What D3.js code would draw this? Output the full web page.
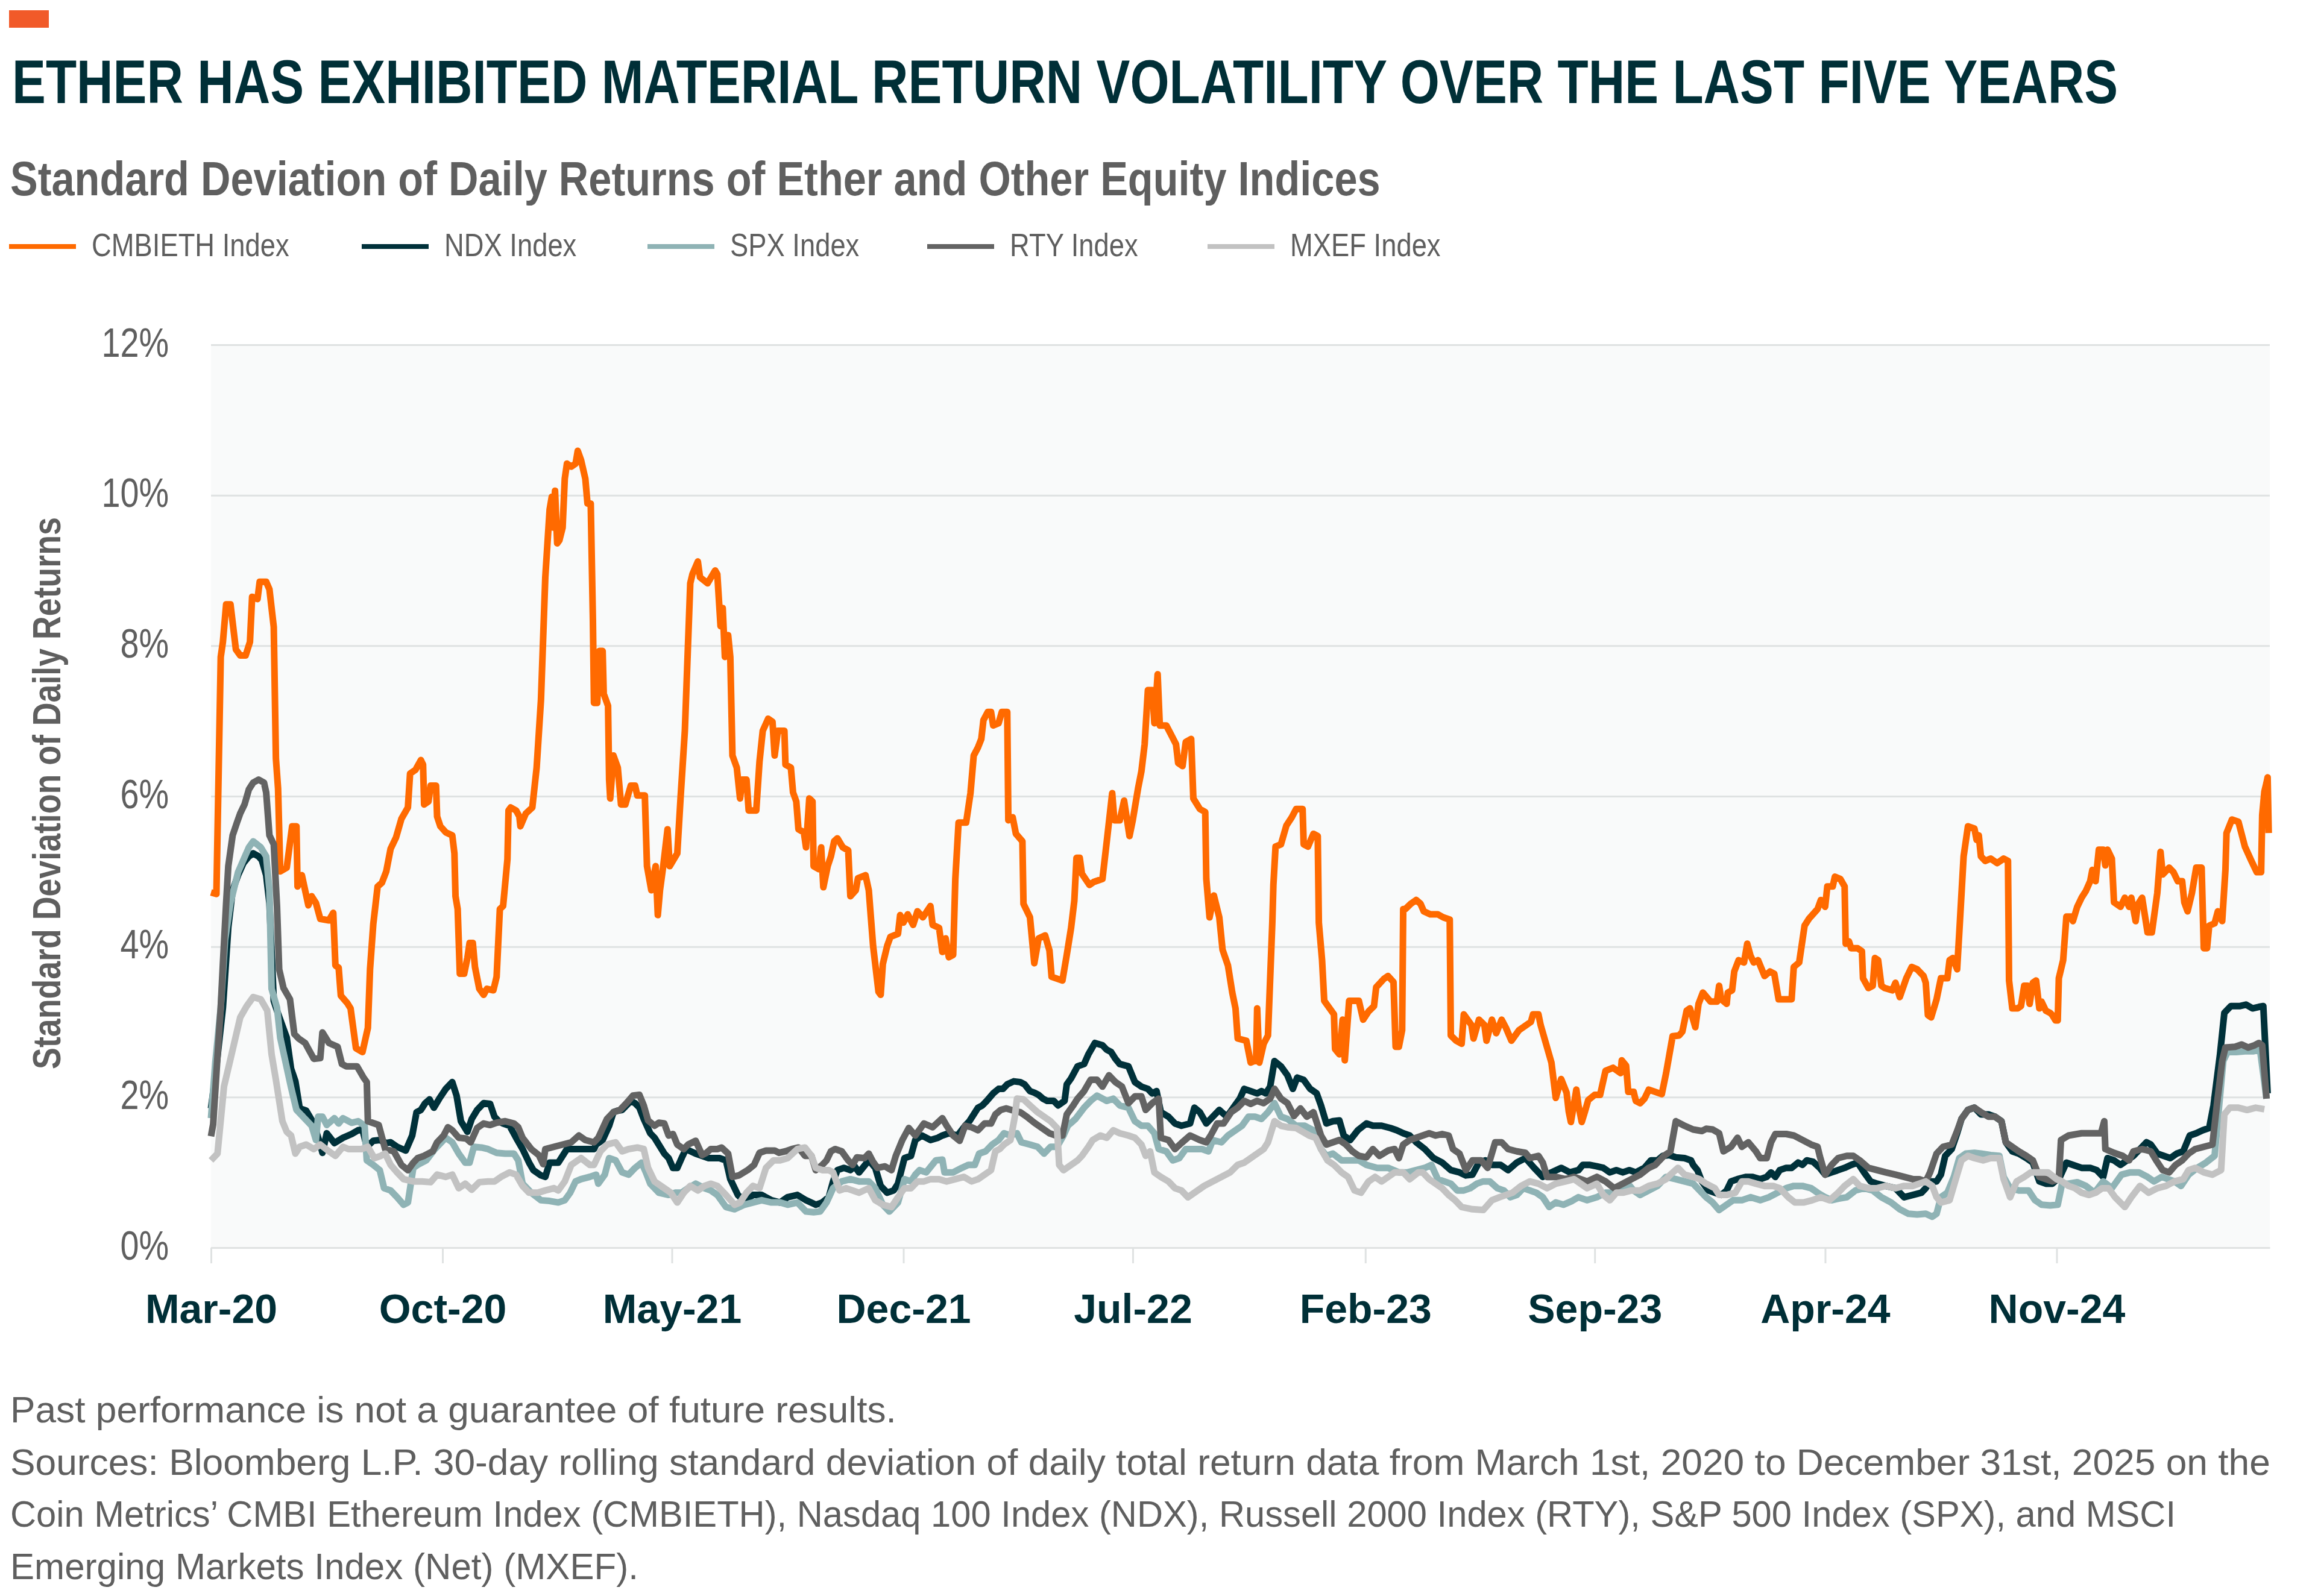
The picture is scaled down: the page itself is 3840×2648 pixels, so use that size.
<!DOCTYPE html>
<html>
<head>
<meta charset="utf-8">
<script src="https://cdn.jsdelivr.net/npm/d3@7"></script>
<style>
  body { margin: 0; background: #ffffff; }
  svg { display: block; }
  text { font-family: 'Liberation Sans', Arial, sans-serif; }
</style>
</head>
<body>
<script>
/*
 * Rolling standard deviation of daily returns: Ether vs equity indices.
 */

const CANVAS_WIDTH = 3840;
const CANVAS_HEIGHT = 2648;
const PLOT_LEFT = 350;
const PLOT_RIGHT = 3765;
const PLOT_TOP = 572;
const PLOT_BOTTOM = 2070;

const DARK = '#002f37';
const GRAY = '#5f5f5f';
const GRID = '#dfe2e2';

/*
 * Data (values in %).
 */

const seriesNames = ['CMBIETH Index', 'NDX Index', 'SPX Index', 'RTY Index', 'MXEF Index'];
const seriesColors = ['#ff6a00', '#00313a', '#8fb3b5', '#636363', '#c2c2c2'];

const xDomain = ['2020-03-01', '2025-05-17'];
const xTickDates = ['2020-03-01', '2020-10-01', '2021-05-01', '2021-12-01', '2022-07-01',
  '2023-02-01', '2023-09-01', '2024-04-01', '2024-11-01'];
const yTickValues = [0, 2, 4, 6, 8, 10, 12];

const CMBIETH = [
  ['2020-03-01',4.72],['2020-03-06',4.7],['2020-03-10',7.85],['2020-03-12',8.05],['2020-03-15',8.55],
  ['2020-03-19',8.55],['2020-03-24',7.95],['2020-03-28',7.87],['2020-04-02',7.87],['2020-04-06',8.05],
  ['2020-04-08',8.65],['2020-04-13',8.62],['2020-04-15',8.85],['2020-04-21',8.85],['2020-04-24',8.75],
  ['2020-04-28',8.25],['2020-04-30',6.5],['2020-05-02',6.1],['2020-05-04',5.0],['2020-05-10',5.05],
  ['2020-05-15',5.6],['2020-05-19',5.6],['2020-05-20',4.8],['2020-05-24',4.95],['2020-05-30',4.55],
  ['2020-06-02',4.67],['2020-06-06',4.58],['2020-06-10',4.37],['2020-06-18',4.35],['2020-06-22',4.45],
  ['2020-06-24',3.75],['2020-06-27',3.72],['2020-06-29',3.35],['2020-07-05',3.25],['2020-07-08',3.18],
  ['2020-07-13',2.65],['2020-07-19',2.6],['2020-07-24',2.92],['2020-07-26',3.7],['2020-07-29',4.3],
  ['2020-08-02',4.8],['2020-08-06',4.85],['2020-08-10',5.0],['2020-08-14',5.3],['2020-08-19',5.45],
  ['2020-08-24',5.7],['2020-08-30',5.85],['2020-09-01',6.3],['2020-09-06',6.35],['2020-09-11',6.48],
  ['2020-09-13',6.42],['2020-09-14',5.89],['2020-09-18',5.93],['2020-09-20',6.14],['2020-09-25',6.14],
  ['2020-09-26',5.73],['2020-09-29',5.6],['2020-10-04',5.52],['2020-10-10',5.48],['2020-10-12',5.24],
  ['2020-10-13',4.67],['2020-10-15',4.5],['2020-10-17',3.64],['2020-10-21',3.64],['2020-10-24',3.85],
  ['2020-10-26',4.05],['2020-10-29',4.05],['2020-10-31',3.73],['2020-11-04',3.44],['2020-11-08',3.36],
  ['2020-11-11',3.44],['2020-11-17',3.42],['2020-11-20',3.6],['2020-11-23',4.5],['2020-11-26',4.54],
  ['2020-11-30',5.16],['2020-12-01',5.81],['2020-12-03',5.85],['2020-12-08',5.81],['2020-12-11',5.73],
  ['2020-12-12',5.6],['2020-12-17',5.77],['2020-12-23',5.85],['2020-12-27',6.38],['2020-12-31',7.28],
  ['2021-01-04',8.91],['2021-01-08',9.81],['2021-01-10',9.98],['2021-01-11',9.57],['2021-01-13',10.06],
  ['2021-01-15',9.36],['2021-01-17',9.4],['2021-01-20',9.57],['2021-01-22',10.22],['2021-01-24',10.42],
  ['2021-01-28',10.38],['2021-02-01',10.42],['2021-02-03',10.59],['2021-02-06',10.47],['2021-02-10',10.22],
  ['2021-02-12',9.89],['2021-02-15',9.89],['2021-02-17',8.34],['2021-02-18',7.24],['2021-02-21',7.24],
  ['2021-02-23',7.93],['2021-02-26',7.93],['2021-02-27',7.36],['2021-03-03',7.2],['2021-03-04',6.22],
  ['2021-03-05',5.97],['2021-03-08',6.54],['2021-03-12',6.38],['2021-03-15',5.89],['2021-03-19',5.89],
  ['2021-03-24',6.14],['2021-03-28',6.14],['2021-03-30',6.01],['2021-04-06',6.01],['2021-04-08',5.07],
  ['2021-04-12',4.75],['2021-04-16',5.07],['2021-04-18',4.42],['2021-04-20',4.75],['2021-04-23',5.07],
  ['2021-04-27',5.56],['2021-04-29',5.07],['2021-05-06',5.24],['2021-05-09',5.97],['2021-05-13',6.87],
  ['2021-05-18',8.83],['2021-05-20',8.95],['2021-05-25',9.12],['2021-05-27',8.91],['2021-06-03',8.83],
  ['2021-06-10',9.0],['2021-06-12',8.95],['2021-06-15',8.26],['2021-06-17',8.5],['2021-06-19',7.85],
  ['2021-06-22',8.14],['2021-06-24',7.85],['2021-06-26',6.54],['2021-06-30',6.38],['2021-07-03',5.97],
  ['2021-07-05',6.22],['2021-07-09',6.22],['2021-07-11',5.81],['2021-07-18',5.81],['2021-07-21',6.46],
  ['2021-07-24',6.87],['2021-07-29',7.03],['2021-08-02',6.99],['2021-08-04',6.54],['2021-08-07',6.87],
  ['2021-08-13',6.87],['2021-08-14',6.42],['2021-08-19',6.38],['2021-08-21',6.05],['2021-08-24',5.93],
  ['2021-08-26',5.56],['2021-08-31',5.52],['2021-09-02',5.32],['2021-09-05',5.97],['2021-09-08',5.93],
  ['2021-09-09',5.07],['2021-09-14',5.03],['2021-09-16',5.32],['2021-09-18',4.79],['2021-09-22',5.07],
  ['2021-09-25',5.2],['2021-09-28',5.4],['2021-10-01',5.44],['2021-10-06',5.32],['2021-10-11',5.28],
  ['2021-10-13',4.67],['2021-10-18',4.75],['2021-10-20',4.91],['2021-10-27',4.95],['2021-10-30',4.75],
  ['2021-11-03',4.01],['2021-11-08',3.4],['2021-11-10',3.36],['2021-11-12',3.77],['2021-11-16',4.01],
  ['2021-11-19',4.13],['2021-11-26',4.17],['2021-11-28',4.42],['2021-12-01',4.32],['2021-12-05',4.43],
  ['2021-12-10',4.29],['2021-12-14',4.47],['2021-12-19',4.39],['2021-12-26',4.54],['2021-12-28',4.29],
  ['2022-01-03',4.25],['2022-01-06',3.93],['2022-01-09',4.11],['2022-01-12',3.86],['2022-01-16',3.89],
  ['2022-01-18',4.9],['2022-01-21',5.65],['2022-01-28',5.65],['2022-02-01',6.04],['2022-02-04',6.54],
  ['2022-02-08',6.65],['2022-02-11',6.76],['2022-02-13',7.01],['2022-02-17',7.12],['2022-02-20',7.12],
  ['2022-02-22',6.94],['2022-02-27',6.97],['2022-03-02',7.12],['2022-03-07',7.12],['2022-03-08',5.68],
  ['2022-03-12',5.72],['2022-03-15',5.5],['2022-03-21',5.4],['2022-03-22',4.57],['2022-03-28',4.39],
  ['2022-04-01',3.78],['2022-04-05',4.11],['2022-04-11',4.15],['2022-04-15',3.95],['2022-04-17',3.6],
  ['2022-04-27',3.55],['2022-05-01',3.89],['2022-05-05',4.25],['2022-05-08',4.61],['2022-05-10',5.18],
  ['2022-05-13',5.18],['2022-05-15',4.97],['2022-05-22',4.82],['2022-05-26',4.86],['2022-06-03',4.9],
  ['2022-06-07',5.4],['2022-06-12',6.04],['2022-06-14',5.68],['2022-06-19',5.68],['2022-06-23',5.94],
  ['2022-06-28',5.47],['2022-07-01',5.68],['2022-07-06',6.11],['2022-07-09',6.33],['2022-07-12',6.69],
  ['2022-07-15',7.41],['2022-07-19',7.41],['2022-07-21',6.97],['2022-07-24',7.62],['2022-07-26',6.94],
  ['2022-08-01',6.94],['2022-08-05',6.83],['2022-08-10',6.69],['2022-08-12',6.44],['2022-08-16',6.4],
  ['2022-08-19',6.72],['2022-08-24',6.76],['2022-08-26',5.97],['2022-09-01',5.83],['2022-09-06',5.79],
  ['2022-09-07',4.9],['2022-09-10',4.39],['2022-09-14',4.68],['2022-09-19',4.39],['2022-09-22',3.96],
  ['2022-09-27',3.75],['2022-10-01',3.39],['2022-10-04',3.18],['2022-10-06',2.78],['2022-10-14',2.75],
  ['2022-10-18',2.46],['2022-10-23',2.49],['2022-10-24',3.18],['2022-10-26',2.46],['2022-10-30',2.71],
  ['2022-11-03',2.82],['2022-11-07',4.32],['2022-11-08',4.82],['2022-11-10',5.33],['2022-11-15',5.36],
  ['2022-11-20',5.61],['2022-11-25',5.72],['2022-11-29',5.83],['2022-12-05',5.83],['2022-12-06',5.36],
  ['2022-12-10',5.33],['2022-12-15',5.5],['2022-12-19',5.47],['2022-12-20',4.32],['2022-12-23',3.82],
  ['2022-12-25',3.28],['2022-12-30',3.18],['2023-01-03',3.1],['2023-01-04',2.64],['2023-01-08',2.57],
  ['2023-01-11',3.03],['2023-01-13',2.49],['2023-01-17',3.28],['2023-01-26',3.28],['2023-01-30',3.03],
  ['2023-02-04',3.14],['2023-02-09',3.21],['2023-02-11',3.46],['2023-02-18',3.57],['2023-02-22',3.61],
  ['2023-02-27',3.53],['2023-03-01',2.67],['2023-03-04',2.67],['2023-03-07',2.89],['2023-03-08',4.5],
  ['2023-03-10',4.5],['2023-03-15',4.57],['2023-03-20',4.62],['2023-03-24',4.57],['2023-03-27',4.47],
  ['2023-04-02',4.43],['2023-04-09',4.43],['2023-04-14',4.39],['2023-04-20',4.36],['2023-04-21',2.82],
  ['2023-04-26',2.75],['2023-05-01',2.71],['2023-05-03',3.1],['2023-05-10',2.96],['2023-05-12',2.78],
  ['2023-05-17',3.03],['2023-05-22',2.96],['2023-05-24',2.75],['2023-05-29',3.03],['2023-06-02',2.85],
  ['2023-06-07',3.03],['2023-06-11',2.92],['2023-06-16',2.75],['2023-06-23',2.89],['2023-06-30',2.96],
  ['2023-07-04',3.0],['2023-07-06',3.1],['2023-07-11',3.1],['2023-07-13',2.96],['2023-07-18',2.71],
  ['2023-07-23',2.46],['2023-07-27',1.99],['2023-08-01',2.24],['2023-08-06',2.06],['2023-08-08',1.81],
  ['2023-08-10',1.67],['2023-08-13',1.92],['2023-08-15',2.1],['2023-08-17',1.89],['2023-08-20',1.67],
  ['2023-08-23',1.81],['2023-08-26',1.96],['2023-09-01',2.03],['2023-09-06',2.03],['2023-09-11',2.35],
  ['2023-09-18',2.39],['2023-09-25',2.32],['2023-09-26',2.49],['2023-09-30',2.42],['2023-10-02',2.07],
  ['2023-10-07',2.07],['2023-10-09',1.95],['2023-10-13',1.92],['2023-10-17',1.98],['2023-10-21',2.1],
  ['2023-10-27',2.07],['2023-11-02',2.04],['2023-11-06',2.32],['2023-11-12',2.81],['2023-11-18',2.82],
  ['2023-11-21',2.87],['2023-11-25',3.15],['2023-11-28',3.18],['2023-12-03',2.93],['2023-12-06',3.24],
  ['2023-12-10',3.39],['2023-12-17',3.27],['2023-12-23',3.27],['2023-12-25',3.48],['2023-12-27',3.3],
  ['2024-01-01',3.24],['2024-01-02',3.39],['2024-01-06',3.42],['2024-01-08',3.67],['2024-01-12',3.82],
  ['2024-01-17',3.79],['2024-01-20',4.04],['2024-01-23',3.88],['2024-01-26',3.79],['2024-01-30',3.82],
  ['2024-02-05',3.61],['2024-02-10',3.67],['2024-02-14',3.64],['2024-02-18',3.3],['2024-02-24',3.3],
  ['2024-03-01',3.3],['2024-03-03',3.73],['2024-03-08',3.79],['2024-03-13',4.28],['2024-03-17',4.37],
  ['2024-03-25',4.5],['2024-03-28',4.62],['2024-04-01',4.53],['2024-04-03',4.8],['2024-04-08',4.8],
  ['2024-04-10',4.93],['2024-04-15',4.9],['2024-04-19',4.8],['2024-04-20',4.04],['2024-04-23',4.07],
  ['2024-04-25',3.98],['2024-05-01',3.98],['2024-05-05',3.94],['2024-05-06',3.58],['2024-05-11',3.45],
  ['2024-05-15',3.48],['2024-05-17',3.85],['2024-05-20',3.82],['2024-05-23',3.48],['2024-05-26',3.45],
  ['2024-06-02',3.42],['2024-06-05',3.52],['2024-06-09',3.33],['2024-06-15',3.58],['2024-06-20',3.73],
  ['2024-06-25',3.7],['2024-07-01',3.61],['2024-07-03',3.52],['2024-07-05',3.09],['2024-07-08',3.06],
  ['2024-07-13',3.3],['2024-07-17',3.58],['2024-07-23',3.58],['2024-07-25',3.82],['2024-07-28',3.85],
  ['2024-08-01',3.7],['2024-08-03',4.19],['2024-08-07',5.2],['2024-08-11',5.6],['2024-08-17',5.57],
  ['2024-08-19',5.42],['2024-08-21',5.48],['2024-08-23',5.2],['2024-08-27',5.14],['2024-09-01',5.17],
  ['2024-09-07',5.11],['2024-09-13',5.17],['2024-09-17',5.14],['2024-09-18',3.55],['2024-09-21',3.18],
  ['2024-09-26',3.18],['2024-09-29',3.21],['2024-10-02',3.48],['2024-10-05',3.48],['2024-10-07',3.24],
  ['2024-10-10',3.52],['2024-10-13',3.55],['2024-10-16',3.18],['2024-10-18',3.27],['2024-10-22',3.15],
  ['2024-10-26',3.12],['2024-10-28',3.09],['2024-10-31',3.02],['2024-11-02',3.02],['2024-11-03',3.58],
  ['2024-11-07',3.82],['2024-11-10',4.4],['2024-11-14',4.4],['2024-11-16',4.34],['2024-11-20',4.53],
  ['2024-11-24',4.65],['2024-11-28',4.74],['2024-12-02',4.87],['2024-12-04',5.02],['2024-12-07',4.87],
  ['2024-12-10',5.29],['2024-12-14',5.29],['2024-12-16',5.08],['2024-12-18',5.29],['2024-12-22',5.17],
  ['2024-12-24',4.59],['2024-12-30',4.53],['2025-01-03',4.65],['2025-01-07',4.53],['2025-01-09',4.65],
  ['2025-01-13',4.34],['2025-01-15',4.56],['2025-01-19',4.65],['2025-01-24',4.19],['2025-01-28',4.19],
  ['2025-02-02',4.71],['2025-02-05',5.26],['2025-02-07',4.96],['2025-02-13',5.05],['2025-02-17',4.99],
  ['2025-02-21',4.87],['2025-02-25',4.87],['2025-02-27',4.59],['2025-03-02',4.47],['2025-03-06',4.71],
  ['2025-03-10',5.05],['2025-03-15',5.05],['2025-03-17',3.98],['2025-03-20',3.98],['2025-03-22',4.28],
  ['2025-03-27',4.31],['2025-03-30',4.47],['2025-04-03',4.34],['2025-04-06',5.02],['2025-04-07',5.51],
  ['2025-04-12',5.69],['2025-04-18',5.66],['2025-04-24',5.33],['2025-04-30',5.14],['2025-05-05',4.99],
  ['2025-05-09',4.99],['2025-05-10',5.75],['2025-05-12',6.06],['2025-05-14',6.18],['2025-05-15',6.25],
  ['2025-05-16',5.51]
];

const NDX = [
  ['2020-03-01',1.85],['2020-03-04',2.17],['2020-03-07',2.54],['2020-03-12',3.19],['2020-03-17',4.26],
  ['2020-03-21',4.75],['2020-03-26',4.95],['2020-03-31',5.11],['2020-04-05',5.2],['2020-04-09',5.24],
  ['2020-04-14',5.2],['2020-04-17',5.15],['2020-04-21',4.95],['2020-04-24',4.58],['2020-04-26',3.93],
  ['2020-04-28',3.28],['2020-05-01',3.15],['2020-05-05',2.99],['2020-05-10',2.79],['2020-05-14',2.38],
  ['2020-05-18',2.21],['2020-05-22',1.85],['2020-05-28',1.82],['2020-06-04',1.65],['2020-06-10',1.37],
  ['2020-06-12',1.26],['2020-06-16',1.52],['2020-06-23',1.39],['2020-07-01',1.46],['2020-07-09',1.51],
  ['2020-07-15',1.56],['2020-07-19',1.57],['2020-07-23',1.34],['2020-07-29',1.42],['2020-08-04',1.43],
  ['2020-08-10',1.39],['2020-08-14',1.4],['2020-08-20',1.34],['2020-08-28',1.29],['2020-09-03',1.49],
  ['2020-09-07',1.8],['2020-09-11',1.83],['2020-09-15',1.92],['2020-09-19',1.97],['2020-09-23',1.86],
  ['2020-09-28',1.98],['2020-10-04',2.11],['2020-10-10',2.2],['2020-10-14',2.02],['2020-10-18',1.68],
  ['2020-10-24',1.54],['2020-10-28',1.71],['2020-11-02',1.83],['2020-11-08',1.92],['2020-11-14',1.91],
  ['2020-11-18',1.74],['2020-11-22',1.68],['2020-11-26',1.65],['2020-12-02',1.62],['2020-12-08',1.46],
  ['2020-12-14',1.31],['2020-12-20',1.13],['2020-12-24',1.03],['2020-12-31',0.96],['2021-01-04',0.94],
  ['2021-01-08',1.13],['2021-01-16',1.13],['2021-01-24',1.31],['2021-02-02',1.31],['2021-02-10',1.31],
  ['2021-02-18',1.31],['2021-02-20',1.37],['2021-02-26',1.43],['2021-03-04',1.62],['2021-03-08',1.8],
  ['2021-03-12',1.82],['2021-03-16',1.83],['2021-03-24',1.95],['2021-03-28',1.92],['2021-04-01',1.86],
  ['2021-04-05',1.71],['2021-04-11',1.52],['2021-04-15',1.46],['2021-04-24',1.25],['2021-04-28',1.19],
  ['2021-05-02',1.06],['2021-05-06',1.06],['2021-05-10',1.19],['2021-05-14',1.31],['2021-05-23',1.25],
  ['2021-05-29',1.22],['2021-06-04',1.19],['2021-06-14',1.19],['2021-06-20',1.16],['2021-06-24',0.91],
  ['2021-07-01',0.7],['2021-07-07',0.62],['2021-07-15',0.7],['2021-07-23',0.7],['2021-08-01',0.63],
  ['2021-08-09',0.6],['2021-08-16',0.67],['2021-08-25',0.7],['2021-09-02',0.63],['2021-09-11',0.57],
  ['2021-09-17',0.6],['2021-09-23',0.67],['2021-09-27',0.88],['2021-10-01',1.03],['2021-10-07',1.06],
  ['2021-10-13',1.03],['2021-10-17',1.08],['2021-10-21',1.0],['2021-10-30',1.16],['2021-11-05',1.06],
  ['2021-11-10',0.82],['2021-11-16',0.73],['2021-11-22',0.76],['2021-11-26',0.85],['2021-12-02',1.19],
  ['2021-12-08',1.22],['2021-12-12',1.43],['2021-12-18',1.49],['2021-12-26',1.43],['2022-01-02',1.46],
  ['2022-01-06',1.49],['2022-01-12',1.52],['2022-01-20',1.49],['2022-01-27',1.62],['2022-01-31',1.68],
  ['2022-02-04',1.77],['2022-02-08',1.86],['2022-02-12',1.89],['2022-02-16',1.95],['2022-02-22',2.05],
  ['2022-02-27',2.11],['2022-03-03',2.11],['2022-03-07',2.17],['2022-03-13',2.21],['2022-03-19',2.2],
  ['2022-03-23',2.17],['2022-03-28',2.08],['2022-04-01',2.06],['2022-04-05',2.03],['2022-04-09',1.98],
  ['2022-04-13',1.95],['2022-04-19',1.95],['2022-04-23',1.89],['2022-04-29',1.95],['2022-05-01',2.17],
  ['2022-05-05',2.25],['2022-05-11',2.41],['2022-05-17',2.44],['2022-05-21',2.57],['2022-05-27',2.72],
  ['2022-06-03',2.69],['2022-06-07',2.63],['2022-06-11',2.6],['2022-06-15',2.51],['2022-06-19',2.44],
  ['2022-06-27',2.41],['2022-07-03',2.2],['2022-07-09',2.14],['2022-07-15',2.11],['2022-07-19',2.05],
  ['2022-07-23',2.08],['2022-07-27',1.8],['2022-08-03',1.74],['2022-08-09',1.65],['2022-08-15',1.62],
  ['2022-08-23',1.65],['2022-08-27',1.86],['2022-09-01',1.8],['2022-09-07',1.65],['2022-09-13',1.74],
  ['2022-09-19',1.83],['2022-09-26',1.74],['2022-10-02',1.86],['2022-10-08',1.98],['2022-10-12',2.11],
  ['2022-10-18',2.08],['2022-10-24',2.05],['2022-10-28',2.08],['2022-11-01',2.05],['2022-11-05',2.14],
  ['2022-11-09',2.48],['2022-11-15',2.41],['2022-11-21',2.29],['2022-11-26',2.11],['2022-11-30',2.26],
  ['2022-12-06',2.23],['2022-12-12',2.11],['2022-12-18',2.05],['2022-12-22',1.89],['2022-12-27',1.65],
  ['2023-01-02',1.68],['2023-01-08',1.69],['2023-01-12',1.49],['2023-01-18',1.43],['2023-01-25',1.56],
  ['2023-02-02',1.65],['2023-02-08',1.62],['2023-02-16',1.62],['2023-02-24',1.59],['2023-03-02',1.56],
  ['2023-03-08',1.52],['2023-03-14',1.49],['2023-03-20',1.4],['2023-03-28',1.31],['2023-04-05',1.19],
  ['2023-04-13',1.13],['2023-04-21',1.03],['2023-04-29',1.0],['2023-05-05',0.96],['2023-05-11',0.97],
  ['2023-05-17',1.13],['2023-05-23',1.16],['2023-05-29',1.1],['2023-06-06',1.1],['2023-06-13',1.03],
  ['2023-06-21',1.13],['2023-06-29',1.19],['2023-07-07',1.06],['2023-07-15',0.94],['2023-07-23',1.0],
  ['2023-08-01',1.06],['2023-08-09',1.0],['2023-08-17',1.03],['2023-08-21',1.1],['2023-08-27',1.1],
  ['2023-09-03',1.08],['2023-09-09',1.06],['2023-09-15',1.0],['2023-09-21',1.03],['2023-09-27',1.0],
  ['2023-10-03',1.03],['2023-10-09',1.0],['2023-10-17',1.06],['2023-10-23',1.16],['2023-10-29',1.16],
  ['2023-11-03',1.22],['2023-11-09',1.23],['2023-11-15',1.2],['2023-11-23',1.19],['2023-11-29',1.16],
  ['2023-12-01',1.1],['2023-12-05',1.03],['2023-12-09',0.88],['2023-12-15',0.76],['2023-12-21',0.73],
  ['2023-12-27',0.7],['2024-01-01',0.76],['2024-01-05',0.88],['2024-01-11',0.91],['2024-01-19',0.94],
  ['2024-01-25',0.94],['2024-02-01',0.91],['2024-02-07',0.94],['2024-02-11',1.0],['2024-02-15',0.94],
  ['2024-02-19',1.03],['2024-02-25',1.06],['2024-03-01',1.06],['2024-03-07',1.13],['2024-03-11',1.1],
  ['2024-03-15',1.16],['2024-03-21',1.14],['2024-03-27',1.06],['2024-04-01',0.97],['2024-04-07',1.0],
  ['2024-04-13',1.03],['2024-04-19',1.06],['2024-04-25',1.1],['2024-05-01',1.13],['2024-05-07',1.0],
  ['2024-05-13',0.88],['2024-05-19',0.85],['2024-05-27',0.82],['2024-06-05',0.79],['2024-06-13',0.67],
  ['2024-06-21',0.7],['2024-06-29',0.73],['2024-07-03',0.79],['2024-07-07',0.88],['2024-07-13',0.88],
  ['2024-07-17',0.97],['2024-07-21',1.22],['2024-07-27',1.31],['2024-08-01',1.52],['2024-08-05',1.71],
  ['2024-08-11',1.83],['2024-08-17',1.86],['2024-08-23',1.77],['2024-08-30',1.77],['2024-09-05',1.74],
  ['2024-09-11',1.68],['2024-09-15',1.4],['2024-09-21',1.28],['2024-09-27',1.25],['2024-10-04',1.19],
  ['2024-10-10',1.13],['2024-10-16',0.88],['2024-10-22',0.85],['2024-10-28',0.85],['2024-11-04',0.94],
  ['2024-11-10',1.13],['2024-11-16',1.1],['2024-11-24',1.06],['2024-12-02',1.06],['2024-12-08',1.03],
  ['2024-12-14',0.94],['2024-12-18',1.19],['2024-12-24',1.16],['2024-12-30',1.1],['2025-01-05',1.16],
  ['2025-01-11',1.22],['2025-01-17',1.31],['2025-01-23',1.4],['2025-01-27',1.37],['2025-02-02',1.25],
  ['2025-02-08',1.22],['2025-02-14',1.19],['2025-02-20',1.25],['2025-02-26',1.28],['2025-03-04',1.49],
  ['2025-03-10',1.52],['2025-03-16',1.56],['2025-03-22',1.59],['2025-03-26',1.89],['2025-04-01',2.57],
  ['2025-04-05',3.12],['2025-04-11',3.21],['2025-04-19',3.21],['2025-04-25',3.23],['2025-05-01',3.18],
  ['2025-05-07',3.2],['2025-05-11',3.21],['2025-05-15',2.05]
];

const SPX = [
  ['2020-03-01',1.72],['2020-03-05',2.46],['2020-03-10',3.19],['2020-03-14',4.09],['2020-03-19',4.58],
  ['2020-03-26',4.99],['2020-04-05',5.32],['2020-04-09',5.4],['2020-04-16',5.32],['2020-04-21',5.2],
  ['2020-04-24',4.75],['2020-04-26',3.44],['2020-05-01',3.19],['2020-05-04',2.79],['2020-05-09',2.46],
  ['2020-05-14',2.13],['2020-05-19',1.83],['2020-05-25',1.74],['2020-06-02',1.62],['2020-06-06',1.43],
  ['2020-06-08',1.74],['2020-06-12',1.74],['2020-06-16',1.63],['2020-06-23',1.72],['2020-06-27',1.65],
  ['2020-07-01',1.72],['2020-07-09',1.66],['2020-07-15',1.68],['2020-07-21',1.62],['2020-07-23',1.16],
  ['2020-07-29',1.1],['2020-08-04',1.03],['2020-08-08',0.79],['2020-08-14',0.76],['2020-08-20',0.67],
  ['2020-08-26',0.57],['2020-08-30',0.6],['2020-09-04',1.06],['2020-09-08',1.1],['2020-09-16',1.16],
  ['2020-09-24',1.31],['2020-10-04',1.46],['2020-10-10',1.4],['2020-10-16',1.25],['2020-10-22',1.13],
  ['2020-10-26',1.13],['2020-10-30',1.34],['2020-11-06',1.33],['2020-11-12',1.31],['2020-11-20',1.26],
  ['2020-11-28',1.25],['2020-12-06',1.25],['2020-12-10',1.16],['2020-12-14',0.85],['2020-12-22',0.73],
  ['2020-12-31',0.63],['2021-01-08',0.62],['2021-01-16',0.6],['2021-01-22',0.63],['2021-01-27',0.73],
  ['2021-02-01',0.88],['2021-02-06',0.91],['2021-02-14',0.94],['2021-02-20',0.97],['2021-02-22',0.85],
  ['2021-02-28',0.97],['2021-03-04',1.19],['2021-03-10',1.16],['2021-03-16',1.0],['2021-03-22',0.97],
  ['2021-03-28',1.06],['2021-04-03',1.13],['2021-04-07',1.0],['2021-04-11',0.85],['2021-04-19',0.73],
  ['2021-04-28',0.7],['2021-05-04',0.73],['2021-05-10',0.73],['2021-05-16',0.79],['2021-05-23',0.85],
  ['2021-05-31',0.79],['2021-06-06',0.76],['2021-06-12',0.7],['2021-06-20',0.54],['2021-06-28',0.51],
  ['2021-07-07',0.57],['2021-07-15',0.6],['2021-07-23',0.63],['2021-08-01',0.6],['2021-08-09',0.6],
  ['2021-08-16',0.57],['2021-08-25',0.6],['2021-09-02',0.48],['2021-09-09',0.47],['2021-09-15',0.48],
  ['2021-09-21',0.6],['2021-09-27',0.79],['2021-10-05',0.88],['2021-10-13',0.91],['2021-10-21',0.88],
  ['2021-10-30',0.88],['2021-11-05',0.79],['2021-11-12',0.57],['2021-11-18',0.48],['2021-11-26',0.6],
  ['2021-12-02',0.91],['2021-12-08',0.88],['2021-12-12',0.97],['2021-12-16',1.03],['2021-12-22',1.0],
  ['2021-12-31',1.16],['2022-01-06',1.17],['2022-01-08',1.0],['2022-01-16',1.0],['2022-01-24',1.06],
  ['2022-01-30',1.1],['2022-02-05',1.1],['2022-02-09',1.25],['2022-02-15',1.28],['2022-02-21',1.37],
  ['2022-02-27',1.43],['2022-03-04',1.52],['2022-03-10',1.49],['2022-03-16',1.52],['2022-03-20',1.4],
  ['2022-03-28',1.37],['2022-04-04',1.34],['2022-04-10',1.25],['2022-04-16',1.34],['2022-04-22',1.34],
  ['2022-04-28',1.49],['2022-05-02',1.62],['2022-05-09',1.71],['2022-05-17',1.86],['2022-05-23',1.95],
  ['2022-05-29',2.02],['2022-06-07',1.95],['2022-06-13',1.98],['2022-06-19',1.89],['2022-06-27',1.86],
  ['2022-07-03',1.68],['2022-07-09',1.62],['2022-07-15',1.62],['2022-07-21',1.52],['2022-07-25',1.31],
  ['2022-08-01',1.28],['2022-08-07',1.16],['2022-08-13',1.19],['2022-08-19',1.31],['2022-08-27',1.31],
  ['2022-09-03',1.31],['2022-09-09',1.28],['2022-09-13',1.43],['2022-09-21',1.4],['2022-09-27',1.49],
  ['2022-10-04',1.56],['2022-10-10',1.62],['2022-10-16',1.74],['2022-10-22',1.74],['2022-10-28',1.71],
  ['2022-11-03',1.8],['2022-11-09',1.92],['2022-11-15',1.74],['2022-11-21',1.71],['2022-11-29',1.62],
  ['2022-12-07',1.62],['2022-12-15',1.56],['2022-12-22',1.31],['2022-12-27',1.22],['2023-01-02',1.25],
  ['2023-01-10',1.16],['2023-01-18',1.16],['2023-01-26',1.16],['2023-02-02',1.1],['2023-02-12',1.06],
  ['2023-02-22',1.06],['2023-03-04',1.0],['2023-03-12',1.0],['2023-03-20',1.03],['2023-03-28',1.06],
  ['2023-04-03',1.1],['2023-04-09',0.91],['2023-04-15',0.88],['2023-04-21',0.85],['2023-04-27',0.76],
  ['2023-05-03',0.76],['2023-05-09',0.79],['2023-05-15',0.85],['2023-05-21',0.88],['2023-05-27',0.88],
  ['2023-06-03',0.79],['2023-06-09',0.76],['2023-06-15',0.67],['2023-06-21',0.7],['2023-06-27',0.79],
  ['2023-07-03',0.76],['2023-07-09',0.73],['2023-07-15',0.67],['2023-07-21',0.54],['2023-07-27',0.6],
  ['2023-08-03',0.57],['2023-08-11',0.62],['2023-08-17',0.67],['2023-08-25',0.63],['2023-09-03',0.67],
  ['2023-09-11',0.73],['2023-09-19',0.73],['2023-09-27',0.76],['2023-10-03',0.83],['2023-10-07',0.76],
  ['2023-10-13',0.7],['2023-10-21',0.76],['2023-10-29',0.82],['2023-11-06',0.94],['2023-11-15',0.91],
  ['2023-11-23',0.88],['2023-12-01',0.85],['2023-12-07',0.76],['2023-12-13',0.67],['2023-12-19',0.6],
  ['2023-12-25',0.5],['2024-01-01',0.57],['2024-01-07',0.63],['2024-01-15',0.63],['2024-01-23',0.67],
  ['2024-02-01',0.63],['2024-02-09',0.67],['2024-02-17',0.73],['2024-02-25',0.79],['2024-03-03',0.82],
  ['2024-03-11',0.82],['2024-03-19',0.79],['2024-03-25',0.73],['2024-04-01',0.67],['2024-04-07',0.63],
  ['2024-04-13',0.65],['2024-04-21',0.67],['2024-04-29',0.76],['2024-05-07',0.79],['2024-05-15',0.76],
  ['2024-05-23',0.67],['2024-06-01',0.6],['2024-06-09',0.51],['2024-06-17',0.45],['2024-06-25',0.44],
  ['2024-07-03',0.45],['2024-07-09',0.41],['2024-07-13',0.45],['2024-07-17',0.67],['2024-07-23',0.73],
  ['2024-07-29',0.94],['2024-08-03',1.19],['2024-08-09',1.25],['2024-08-17',1.26],['2024-08-23',1.25],
  ['2024-09-01',1.23],['2024-09-09',1.22],['2024-09-13',0.94],['2024-09-19',0.79],['2024-09-27',0.76],
  ['2024-10-06',0.76],['2024-10-12',0.63],['2024-10-18',0.57],['2024-10-26',0.56],['2024-11-02',0.57],
  ['2024-11-06',0.85],['2024-11-12',0.85],['2024-11-20',0.87],['2024-11-28',0.82],['2024-12-06',0.73],
  ['2024-12-14',0.88],['2024-12-22',0.79],['2024-12-31',0.97],['2025-01-08',1.0],['2025-01-16',1.0],
  ['2025-01-24',0.94],['2025-01-30',0.88],['2025-02-06',0.94],['2025-02-12',0.91],['2025-02-18',0.88],
  ['2025-02-24',0.82],['2025-03-03',0.97],['2025-03-11',1.06],['2025-03-19',1.13],['2025-03-27',1.22],
  ['2025-03-31',1.86],['2025-04-04',2.48],['2025-04-08',2.6],['2025-04-16',2.6],['2025-04-24',2.61],
  ['2025-05-02',2.61],['2025-05-08',2.63],['2025-05-14',1.98]
];

const RTY = [
  ['2020-03-01',1.48],['2020-03-03',1.64],['2020-03-07',2.54],['2020-03-10',3.19],['2020-03-12',3.77],
  ['2020-03-15',4.58],['2020-03-17',5.07],['2020-03-21',5.48],['2020-03-25',5.65],['2020-03-28',5.77],
  ['2020-04-01',5.89],['2020-04-05',6.09],['2020-04-09',6.18],['2020-04-14',6.22],['2020-04-19',6.18],
  ['2020-04-21',6.05],['2020-04-24',5.48],['2020-04-28',5.36],['2020-05-01',4.54],['2020-05-03',3.7],
  ['2020-05-07',3.45],['2020-05-13',3.3],['2020-05-17',2.84],['2020-05-21',2.78],['2020-05-27',2.72],
  ['2020-06-04',2.51],['2020-06-10',2.52],['2020-06-12',2.86],['2020-06-18',2.72],['2020-06-26',2.67],
  ['2020-06-30',2.44],['2020-07-04',2.41],['2020-07-14',2.41],['2020-07-20',2.26],['2020-07-23',2.2],
  ['2020-07-24',1.68],['2020-08-03',1.63],['2020-08-09',1.31],['2020-08-17',1.28],['2020-08-24',1.1],
  ['2020-08-30',1.03],['2020-09-04',1.13],['2020-09-08',1.19],['2020-09-14',1.22],['2020-09-18',1.25],
  ['2020-09-22',1.28],['2020-09-26',1.4],['2020-10-02',1.49],['2020-10-06',1.6],['2020-10-10',1.56],
  ['2020-10-16',1.46],['2020-10-23',1.45],['2020-10-27',1.4],['2020-11-02',1.59],['2020-11-08',1.65],
  ['2020-11-14',1.63],['2020-11-20',1.66],['2020-11-28',1.68],['2020-12-06',1.65],['2020-12-10',1.6],
  ['2020-12-14',1.46],['2020-12-22',1.31],['2020-12-29',1.23],['2021-01-02',1.11],['2021-01-04',1.31],
  ['2021-01-12',1.34],['2021-01-20',1.37],['2021-01-28',1.4],['2021-02-04',1.49],['2021-02-10',1.43],
  ['2021-02-18',1.4],['2021-02-22',1.46],['2021-03-02',1.71],['2021-03-08',1.8],['2021-03-14',1.83],
  ['2021-03-20',1.92],['2021-03-26',2.02],['2021-04-01',2.03],['2021-04-05',1.89],['2021-04-09',1.69],
  ['2021-04-15',1.62],['2021-04-19',1.66],['2021-04-24',1.65],['2021-04-28',1.49],['2021-05-02',1.51],
  ['2021-05-06',1.37],['2021-05-12',1.31],['2021-05-16',1.37],['2021-05-23',1.42],['2021-05-29',1.23],
  ['2021-06-02',1.26],['2021-06-06',1.31],['2021-06-12',1.31],['2021-06-16',1.33],['2021-06-22',1.25],
  ['2021-06-26',0.94],['2021-07-02',0.96],['2021-07-10',1.03],['2021-07-16',1.1],['2021-07-21',1.26],
  ['2021-07-27',1.29],['2021-08-04',1.29],['2021-08-08',1.26],['2021-08-14',1.28],['2021-08-20',1.31],
  ['2021-08-26',1.33],['2021-09-01',1.22],['2021-09-07',1.22],['2021-09-11',1.03],['2021-09-17',1.1],
  ['2021-09-21',1.16],['2021-09-25',1.28],['2021-09-29',1.31],['2021-10-05',1.28],['2021-10-11',1.16],
  ['2021-10-15',1.1],['2021-10-19',1.2],['2021-10-26',1.19],['2021-10-30',1.25],['2021-11-03',1.14],
  ['2021-11-07',1.06],['2021-11-14',1.08],['2021-11-20',1.03],['2021-11-24',1.22],['2021-11-30',1.43],
  ['2021-12-06',1.59],['2021-12-12',1.49],['2021-12-20',1.65],['2021-12-28',1.6],['2022-01-06',1.72],
  ['2022-01-10',1.62],['2022-01-16',1.49],['2022-01-22',1.42],['2022-01-27',1.62],['2022-02-02',1.6],
  ['2022-02-08',1.56],['2022-02-14',1.65],['2022-02-20',1.65],['2022-02-24',1.77],['2022-03-01',1.83],
  ['2022-03-06',1.85],['2022-03-13',1.82],['2022-03-19',1.8],['2022-03-25',1.74],['2022-04-01',1.66],
  ['2022-04-07',1.6],['2022-04-15',1.52],['2022-04-21',1.49],['2022-04-27',1.49],['2022-05-01',1.77],
  ['2022-05-07',1.89],['2022-05-11',1.98],['2022-05-17',2.08],['2022-05-23',2.23],['2022-05-29',2.23],
  ['2022-06-03',2.14],['2022-06-09',2.29],['2022-06-15',2.2],['2022-06-21',2.14],['2022-06-27',1.92],
  ['2022-07-03',2.01],['2022-07-09',2.01],['2022-07-13',1.83],['2022-07-19',1.92],['2022-07-25',1.98],
  ['2022-07-27',1.46],['2022-08-03',1.43],['2022-08-09',1.31],['2022-08-15',1.39],['2022-08-23',1.49],
  ['2022-09-01',1.43],['2022-09-07',1.4],['2022-09-11',1.49],['2022-09-17',1.65],['2022-09-23',1.65],
  ['2022-09-30',1.8],['2022-10-06',1.86],['2022-10-12',1.95],['2022-10-18',1.91],['2022-10-24',1.95],
  ['2022-10-30',1.92],['2022-11-05',1.98],['2022-11-09',2.11],['2022-11-15',1.98],['2022-11-21',1.92],
  ['2022-11-27',1.75],['2022-12-03',1.85],['2022-12-09',1.74],['2022-12-15',1.8],['2022-12-22',1.49],
  ['2022-12-27',1.37],['2023-01-02',1.4],['2023-01-08',1.43],['2023-01-14',1.37],['2023-01-20',1.28],
  ['2023-01-26',1.22],['2023-02-02',1.2],['2023-02-08',1.31],['2023-02-14',1.22],['2023-02-22',1.29],
  ['2023-02-28',1.31],['2023-03-04',1.19],['2023-03-08',1.37],['2023-03-14',1.43],['2023-03-20',1.46],
  ['2023-03-26',1.49],['2023-04-01',1.52],['2023-04-07',1.49],['2023-04-13',1.51],['2023-04-19',1.49],
  ['2023-04-23',1.31],['2023-04-29',1.25],['2023-05-05',1.03],['2023-05-11',1.16],['2023-05-19',1.16],
  ['2023-05-25',1.06],['2023-06-01',1.4],['2023-06-07',1.4],['2023-06-13',1.31],['2023-06-21',1.28],
  ['2023-06-29',1.26],['2023-07-03',1.19],['2023-07-11',1.22],['2023-07-15',1.13],['2023-07-19',0.94],
  ['2023-07-27',0.94],['2023-08-05',0.91],['2023-08-13',0.94],['2023-08-25',0.88],['2023-09-03',0.94],
  ['2023-09-11',0.88],['2023-09-19',0.79],['2023-09-27',0.85],['2023-10-05',0.91],['2023-10-13',0.97],
  ['2023-10-21',1.06],['2023-10-27',1.1],['2023-11-04',1.22],['2023-11-10',1.28],['2023-11-15',1.68],
  ['2023-11-23',1.62],['2023-12-01',1.57],['2023-12-09',1.55],['2023-12-13',1.58],['2023-12-19',1.57],
  ['2023-12-25',1.52],['2023-12-29',1.28],['2024-01-05',1.34],['2024-01-11',1.46],['2024-01-15',1.34],
  ['2024-01-21',1.4],['2024-01-28',1.28],['2024-02-01',1.19],['2024-02-07',1.19],['2024-02-11',1.4],
  ['2024-02-15',1.51],['2024-02-25',1.51],['2024-03-03',1.49],['2024-03-11',1.43],['2024-03-19',1.37],
  ['2024-03-25',1.34],['2024-03-27',1.22],['2024-04-01',0.97],['2024-04-07',1.1],['2024-04-13',1.19],
  ['2024-04-21',1.22],['2024-04-27',1.22],['2024-05-03',1.16],['2024-05-11',1.06],['2024-05-19',1.03],
  ['2024-05-27',1.0],['2024-06-05',0.97],['2024-06-13',0.94],['2024-06-21',0.91],['2024-06-27',0.91],
  ['2024-07-03',0.88],['2024-07-07',1.0],['2024-07-13',1.25],['2024-07-19',1.34],['2024-07-27',1.37],
  ['2024-08-01',1.55],['2024-08-05',1.71],['2024-08-11',1.83],['2024-08-17',1.86],['2024-08-23',1.8],
  ['2024-08-30',1.74],['2024-09-05',1.74],['2024-09-11',1.68],['2024-09-15',1.4],['2024-09-21',1.34],
  ['2024-09-27',1.28],['2024-10-04',1.22],['2024-10-10',1.16],['2024-10-16',0.94],['2024-10-22',0.91],
  ['2024-10-28',0.88],['2024-11-03',0.91],['2024-11-05',1.43],['2024-11-12',1.49],['2024-11-24',1.52],
  ['2024-12-04',1.52],['2024-12-12',1.52],['2024-12-15',1.68],['2024-12-16',1.31],['2024-12-24',1.26],
  ['2025-01-01',1.22],['2025-01-07',1.16],['2025-01-11',1.28],['2025-01-19',1.31],['2025-01-27',1.28],
  ['2025-02-01',1.16],['2025-02-07',1.03],['2025-02-13',1.0],['2025-02-19',1.1],['2025-02-25',1.16],
  ['2025-03-03',1.25],['2025-03-09',1.31],['2025-03-17',1.34],['2025-03-25',1.37],['2025-03-29',1.89],
  ['2025-04-03',2.48],['2025-04-06',2.66],['2025-04-15',2.67],['2025-04-21',2.7],['2025-04-27',2.66],
  ['2025-05-03',2.69],['2025-05-07',2.72],['2025-05-10',2.69],['2025-05-14',1.98]
];

const MXEF = [
  ['2020-03-01',1.16],['2020-03-07',1.25],['2020-03-13',2.14],['2020-03-21',2.63],['2020-03-28',3.06],
  ['2020-04-03',3.21],['2020-04-09',3.33],['2020-04-16',3.3],['2020-04-22',3.15],['2020-04-26',2.57],
  ['2020-04-30',2.23],['2020-05-06',1.68],['2020-05-10',1.54],['2020-05-14',1.49],['2020-05-18',1.25],
  ['2020-05-22',1.34],['2020-05-28',1.37],['2020-06-04',1.31],['2020-06-10',1.37],['2020-06-18',1.28],
  ['2020-06-24',1.22],['2020-07-01',1.34],['2020-07-06',1.31],['2020-07-12',1.31],['2020-07-18',1.31],
  ['2020-07-24',1.34],['2020-07-30',1.19],['2020-08-05',1.22],['2020-08-09',1.25],['2020-08-14',1.1],
  ['2020-08-20',1.0],['2020-08-26',0.91],['2020-09-04',0.88],['2020-09-12',0.88],['2020-09-20',0.87],
  ['2020-09-26',0.97],['2020-10-04',0.94],['2020-10-10',0.97],['2020-10-16',0.79],['2020-10-22',0.85],
  ['2020-10-28',0.77],['2020-11-04',0.87],['2020-11-12',0.88],['2020-11-18',0.88],['2020-11-24',0.94],
  ['2020-12-02',1.0],['2020-12-08',0.97],['2020-12-14',0.82],['2020-12-20',0.73],['2020-12-28',0.73],
  ['2021-01-04',0.76],['2021-01-12',0.79],['2021-01-16',0.76],['2021-01-22',0.88],['2021-01-28',1.1],
  ['2021-02-06',1.19],['2021-02-14',1.1],['2021-02-18',1.1],['2021-02-24',1.28],['2021-03-02',1.37],
  ['2021-03-10',1.4],['2021-03-16',1.28],['2021-03-22',1.31],['2021-03-30',1.33],['2021-04-05',1.31],
  ['2021-04-09',1.06],['2021-04-15',0.88],['2021-04-24',0.79],['2021-04-30',0.73],['2021-05-06',0.6],
  ['2021-05-12',0.73],['2021-05-18',0.82],['2021-05-25',0.76],['2021-05-31',0.82],['2021-06-06',0.85],
  ['2021-06-12',0.82],['2021-06-20',0.7],['2021-06-28',0.57],['2021-07-03',0.6],['2021-07-09',0.73],
  ['2021-07-15',0.82],['2021-07-21',0.79],['2021-07-27',1.06],['2021-08-03',1.16],['2021-08-09',1.16],
  ['2021-08-16',1.19],['2021-08-25',1.31],['2021-09-01',1.33],['2021-09-07',1.22],['2021-09-11',1.06],
  ['2021-09-17',1.03],['2021-09-23',1.03],['2021-09-27',1.0],['2021-10-03',0.76],['2021-10-09',0.79],
  ['2021-10-15',0.76],['2021-10-21',0.73],['2021-10-30',0.79],['2021-11-05',0.63],['2021-11-12',0.57],
  ['2021-11-20',0.54],['2021-11-26',0.67],['2021-12-02',0.79],['2021-12-08',0.79],['2021-12-14',0.88],
  ['2021-12-20',0.88],['2021-12-26',0.91],['2022-01-03',0.91],['2022-01-10',0.88],['2022-01-18',0.91],
  ['2022-01-26',0.94],['2022-02-02',0.88],['2022-02-08',0.91],['2022-02-14',0.97],['2022-02-20',1.03],
  ['2022-02-24',1.28],['2022-02-28',1.31],['2022-03-04',1.37],['2022-03-10',1.43],['2022-03-14',1.74],
  ['2022-03-16',1.98],['2022-03-22',1.97],['2022-03-28',1.89],['2022-04-04',1.8],['2022-04-10',1.74],
  ['2022-04-16',1.68],['2022-04-22',1.59],['2022-04-24',1.1],['2022-04-28',1.03],['2022-05-05',1.1],
  ['2022-05-11',1.16],['2022-05-15',1.22],['2022-05-21',1.34],['2022-05-25',1.43],['2022-06-01',1.49],
  ['2022-06-07',1.46],['2022-06-13',1.56],['2022-06-19',1.52],['2022-06-27',1.49],['2022-07-03',1.46],
  ['2022-07-09',1.37],['2022-07-13',1.22],['2022-07-17',1.28],['2022-07-21',1.0],['2022-07-27',0.94],
  ['2022-08-03',0.88],['2022-08-09',0.79],['2022-08-15',0.76],['2022-08-21',0.67],['2022-08-27',0.73],
  ['2022-09-05',0.82],['2022-09-13',0.88],['2022-09-21',0.94],['2022-09-29',1.0],['2022-10-06',1.1],
  ['2022-10-12',1.13],['2022-10-18',1.19],['2022-10-24',1.25],['2022-10-30',1.31],['2022-11-03',1.4],
  ['2022-11-09',1.68],['2022-11-15',1.62],['2022-11-21',1.6],['2022-11-29',1.59],['2022-12-05',1.54],
  ['2022-12-11',1.49],['2022-12-17',1.46],['2022-12-22',1.31],['2022-12-28',1.16],['2023-01-03',1.1],
  ['2023-01-10',1.0],['2023-01-16',0.94],['2023-01-22',0.76],['2023-01-28',0.73],['2023-02-04',0.88],
  ['2023-02-10',0.94],['2023-02-16',0.88],['2023-02-22',0.94],['2023-02-28',1.0],['2023-03-08',1.0],
  ['2023-03-14',0.91],['2023-03-22',1.0],['2023-03-26',1.0],['2023-04-01',0.91],['2023-04-07',0.85],
  ['2023-04-13',0.79],['2023-04-19',0.7],['2023-04-25',0.63],['2023-05-01',0.54],['2023-05-11',0.51],
  ['2023-05-21',0.5],['2023-05-29',0.63],['2023-06-05',0.67],['2023-06-11',0.7],['2023-06-17',0.73],
  ['2023-06-25',0.82],['2023-07-03',0.88],['2023-07-11',0.85],['2023-07-19',0.79],['2023-07-27',0.85],
  ['2023-08-05',0.88],['2023-08-13',0.91],['2023-08-25',0.79],['2023-09-03',0.85],['2023-09-09',0.7],
  ['2023-09-15',0.63],['2023-09-21',0.73],['2023-09-27',0.73],['2023-10-05',0.76],['2023-10-13',0.76],
  ['2023-10-21',0.82],['2023-10-29',0.85],['2023-11-06',0.91],['2023-11-10',0.97],['2023-11-17',1.06],
  ['2023-11-23',0.97],['2023-12-01',0.94],['2023-12-07',0.91],['2023-12-13',0.85],['2023-12-21',0.79],
  ['2023-12-25',0.7],['2024-01-01',0.7],['2024-01-09',0.73],['2024-01-15',0.88],['2024-01-21',0.88],
  ['2024-01-28',0.85],['2024-02-05',0.82],['2024-02-13',0.82],['2024-02-19',0.79],['2024-02-27',0.67],
  ['2024-03-04',0.6],['2024-03-12',0.6],['2024-03-20',0.63],['2024-03-28',0.67],['2024-04-05',0.63],
  ['2024-04-13',0.73],['2024-04-19',0.82],['2024-04-27',0.91],['2024-05-03',0.82],['2024-05-11',0.79],
  ['2024-05-19',0.79],['2024-05-27',0.82],['2024-06-05',0.79],['2024-06-13',0.82],['2024-06-21',0.82],
  ['2024-06-27',0.85],['2024-07-03',0.88],['2024-07-09',0.82],['2024-07-13',0.67],['2024-07-17',0.6],
  ['2024-07-25',0.63],['2024-08-01',0.97],['2024-08-05',1.16],['2024-08-11',1.22],['2024-08-17',1.19],
  ['2024-08-25',1.16],['2024-09-01',1.19],['2024-09-09',1.19],['2024-09-13',0.91],['2024-09-19',0.67],
  ['2024-09-25',0.88],['2024-10-02',0.94],['2024-10-08',1.0],['2024-10-16',1.0],['2024-10-24',1.0],
  ['2024-11-01',0.91],['2024-11-06',0.88],['2024-11-12',0.82],['2024-11-18',0.79],['2024-11-24',0.73],
  ['2024-12-01',0.7],['2024-12-07',0.73],['2024-12-13',0.79],['2024-12-19',0.79],['2024-12-25',0.67],
  ['2025-01-03',0.54],['2025-01-09',0.67],['2025-01-17',0.82],['2025-01-25',0.73],['2025-02-02',0.79],
  ['2025-02-10',0.82],['2025-02-18',0.88],['2025-02-26',0.91],['2025-03-03',1.03],['2025-03-09',1.06],
  ['2025-03-17',1.0],['2025-03-25',0.97],['2025-04-02',1.03],['2025-04-05',1.77],['2025-04-10',1.86],
  ['2025-04-18',1.86],['2025-04-26',1.83],['2025-05-04',1.86],['2025-05-12',1.84]
];

const seriesData = [CMBIETH, NDX, SPX, RTY, MXEF];

const titleText = 'ETHER HAS EXHIBITED MATERIAL RETURN VOLATILITY OVER THE LAST FIVE YEARS';
const subtitleText = 'Standard Deviation of Daily Returns of Ether and Other Equity Indices';
const yAxisTitle = 'Standard Deviation of Daily Returns';
const footnotes = [
  'Past performance is not a guarantee of future results.',
  'Sources: Bloomberg L.P. 30-day rolling standard deviation of daily total return data from March 1st, 2020 to December 31st, 2025 on the',
  'Coin Metrics\u2019 CMBI Ethereum Index (CMBIETH), Nasdaq 100 Index (NDX), Russell 2000 Index (RTY), S&P 500 Index (SPX), and MSCI',
  'Emerging Markets Index (Net) (MXEF).'
];

const parseDate = d3.utcParse('%Y-%m-%d');

/*
 * Squeeze a text horizontally to a target width (the original uses a
 * condensed face). The text is drawn at the origin and placed with a
 * transform, so its box stays where it is seen.
 */

const fitWidth = (selection, x, y, width, rotate = 0) => {
  selection.each(function(d, i) {
    const target = typeof width === 'function' ? width(d, i) : width;
    const natural = this.getComputedTextLength();
    const sx = natural > 0 ? target / natural : 1;
    const ty = typeof y === 'function' ? y(d, i) : y;
    d3.select(this)
        .attr('x', 0)
        .attr('y', 0)
        .attr('transform', `translate(${x}, ${ty}) rotate(${rotate}) scale(${sx}, 1)`);
  });
};

/*
 * Header: accent block, title, subtitle.
 */

const addHeader = svg => {
  svg.append('rect')
      .attr('x', 15)
      .attr('y', 17)
      .attr('width', 66)
      .attr('height', 29)
      .attr('fill', '#f15a29');

  svg.append('text')
      .attr('font-size', 102)
      .attr('font-weight', 700)
      .attr('fill', DARK)
      .text(titleText)
      .call(fitWidth, 20, 171, 3494);

  svg.append('text')
      .attr('font-size', 80)
      .attr('font-weight', 700)
      .attr('fill', GRAY)
      .text(subtitleText)
      .call(fitWidth, 17, 324, 2273);
};

/*
 * Legend row under the subtitle.
 */

const addLegend = svg => {
  const legendX = [15, 600, 1074, 1538, 2003];

  const items = svg.append('g')
      .attr('id', 'legend')
    .selectAll('g')
    .data(seriesNames)
    .join('g')
      .attr('transform', (d, i) => `translate(${legendX[i]}, 0)`);

  items.append('line')
      .attr('x1', 0)
      .attr('x2', 111)
      .attr('y1', 409)
      .attr('y2', 409)
      .attr('stroke', (d, i) => seriesColors[i])
      .attr('stroke-width', 8);

  items.append('text')
      .attr('font-size', 54)
      .attr('fill', GRAY)
      .text(d => d)
      .each(function() {
        const w = this.getComputedTextLength() * 0.84;
        d3.select(this).call(fitWidth, 137, 425, w);
      });
};

/*
 * Footnotes below the chart.
 */

const addFootnotes = svg => {
  const widths = [1470, 3750, 3593, 1042];

  svg.append('g')
    .selectAll('text')
    .data(footnotes)
    .join('text')
      .attr('font-size', 61)
      .attr('fill', GRAY)
      .text(d => d)
      .call(fitWidth, 17, (d, i) => 2360 + i * 86.7, (d, i) => widths[i]);
};

/*
 * The chart itself.
 */

const plotChart = () => {
  const svg = d3.select('body')
    .append('svg')
      .attr('width', CANVAS_WIDTH)
      .attr('height', CANVAS_HEIGHT)
      .attr('viewBox', `0 0 ${CANVAS_WIDTH} ${CANVAS_HEIGHT}`);

  svg.append('rect')
      .attr('width', CANVAS_WIDTH)
      .attr('height', CANVAS_HEIGHT)
      .attr('fill', '#ffffff');

  addHeader(svg);
  addLegend(svg);

  const x = d3.scaleUtc()
      .domain(xDomain.map(parseDate))
      .range([PLOT_LEFT, PLOT_RIGHT]);

  const y = d3.scaleLinear()
      .domain([0, 12])
      .range([PLOT_BOTTOM, PLOT_TOP]);

  // plot background
  svg.append('rect')
      .attr('x', PLOT_LEFT)
      .attr('y', PLOT_TOP)
      .attr('width', PLOT_RIGHT - PLOT_LEFT)
      .attr('height', PLOT_BOTTOM - PLOT_TOP)
      .attr('fill', '#f9fafa');

  // y axis with gridlines
  svg.append('g')
      .attr('transform', `translate(${PLOT_LEFT}, 0)`)
      .call(d3.axisLeft(y)
        .tickValues(yTickValues)
        .tickSize(-(PLOT_RIGHT - PLOT_LEFT))
        .tickPadding(70)
        .tickFormat(d => d + '%'))
      .call(g => g.select('.domain').remove())
      .call(g => g.selectAll('.tick line')
        .attr('stroke', GRID)
        .attr('stroke-width', 3))
      .call(g => g.selectAll('.tick text')
        .attr('font-size', 68)
        .attr('font-family', null)
        .attr('fill', GRAY)
        .attr('dy', '0.28em')
        .each(function() {
          const w = this.getComputedTextLength() * 0.82;
          d3.select(this)
              .attr('textLength', w)
              .attr('lengthAdjust', 'spacingAndGlyphs');
        }));

  // x axis
  svg.append('g')
      .attr('transform', `translate(0, ${PLOT_BOTTOM})`)
      .call(d3.axisBottom(x)
        .tickValues(xTickDates.map(parseDate))
        .tickSize(26)
        .tickSizeOuter(0)
        .tickPadding(51)
        .tickFormat(d3.utcFormat('%b-%y')))
      .call(g => g.select('.domain')
        .attr('stroke', GRID)
        .attr('stroke-width', 3))
      .call(g => g.selectAll('.tick line')
        .attr('stroke', GRID)
        .attr('stroke-width', 3))
      .call(g => g.selectAll('.tick text')
        .attr('font-size', 68)
        .attr('font-family', null)
        .attr('font-weight', 700)
        .attr('fill', DARK));

  // y axis title
  svg.append('text')
      .attr('text-anchor', 'middle')
      .attr('font-size', 64)
      .attr('font-weight', 700)
      .attr('fill', GRAY)
      .text(yAxisTitle)
      .call(fitWidth, 100, 1316, 916, -90);

  // series lines
  const line = d3.line()
      .x(d => x(d.date))
      .y(d => y(d.value));

  const series = seriesData.map((rows, i) => ({
    name: seriesNames[i],
    color: seriesColors[i],
    points: d3.sort(rows.map(([date, value]) => ({date: parseDate(date), value})), d => d.date)
  }));

  svg.append('g')
      .attr('id', 'lines')
    .selectAll('path')
    .data(series)
    .join('path')
      .attr('fill', 'none')
      .attr('stroke', d => d.color)
      .attr('stroke-width', 11)
      .attr('stroke-linejoin', 'round')
      .attr('stroke-linecap', 'butt')
      .attr('d', d => line(d.points));

  addFootnotes(svg);
};

plotChart();
</script>
</body>
</html>
